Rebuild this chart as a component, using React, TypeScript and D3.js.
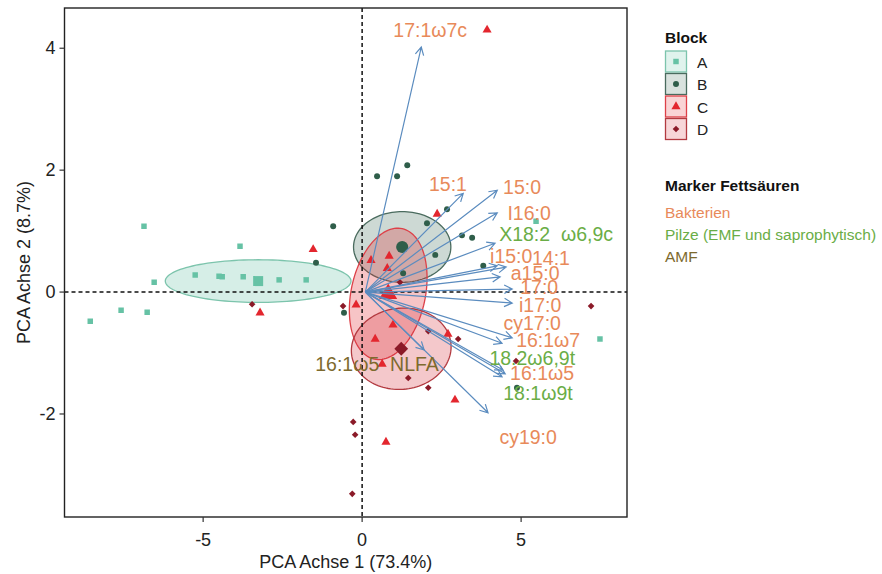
import React from "react";
import * as d3 from "d3";

const W = 882;
const H = 574;
const FONT = "'Liberation Sans', Arial, Helvetica, sans-serif";

// PCA scores per block (PC1, PC2)
const blockNames = ["A", "B", "C", "D"];
const scoresA: [number, number][] = [
  [-6.86, 1.08], [-3.84, 0.75], [-6.54, 0.16], [-5.25, 0.28], [-4.5, 0.26],
  [-4.4, 0.25], [-3.74, 0.25], [-2.61, 0.2], [-1.76, 0.2], [-7.58, -0.3],
  [-6.76, -0.33], [-8.55, -0.48], [7.48, -0.77], [5.47, 1.16],
];
const scoresB: [number, number][] = [
  [0.47, 1.9], [1.1, 1.9], [1.42, 2.08], [-0.91, 1.08], [-1.45, 0.48],
  [-0.57, -0.34], [2.04, 1.13], [2.67, 1.36], [3.14, 0.93], [3.46, 0.89],
  [2.3, 0.61], [3.81, 0.43], [1.29, 0.31], [4.87, -1.57],
];
const scoresC: [number, number][] = [
  [3.93, 4.3], [-1.54, 0.7], [-3.21, -0.34], [0.85, 0.59], [0.28, 0.52],
  [0.79, 0.39], [2.36, 1.28], [-0.19, -0.21], [0.97, -0.54], [0.41, -0.77],
  [0.63, -1.18], [2.7, -0.69], [2.92, -1.77], [0.75, -2.46],
];
const scoresD: [number, number][] = [
  [7.2, -0.23], [-3.46, -0.2], [-0.6, -0.23], [3.02, -0.77], [2.08, -0.64],
  [1.45, -1.41], [2.08, -1.57], [4.84, -1.13], [-0.28, -2.13], [-0.22, -2.34],
  [-0.31, -3.31], [1.19, 0.16],
];
const blockScores = [scoresA, scoresB, scoresC, scoresD];

// Block centroids and confidence-ellipse half-axes (data units)
const blockMeans: [number, number][] = [[-3.27, 0.18], [1.26, 0.74], [0.82, -0.03], [1.23, -0.93]];
const ellipseMajor: [number, number][] = [[2.92, 0], [1.53, 0], [0.44, 1.07], [1.56, 0.1]];
const ellipseMinor: [number, number][] = [[0, 0.35], [0, 0.58], [1.14, -0.13], [0.16, -0.66]];

// Fatty acid loadings
const acidNames = [
  "17:1ω7c", "15:1", "15:0", "I16:0", "X18:2  ω6,9c", "i15:0", "14:1", "a15:0", "17:0",
  "i17:0", "cy17:0", "16:1ω7", "18.2ω6,9t", "16:1ω5", "18:1ω9t", "cy19:0", "16:1ω5  NLFA",
];
const loadX = [1.86, 3.18, 4.25, 4.25, 4.18, 4.25, 4.53, 4.34, 4.72, 4.72, 4.4, 4.72, 4.43, 4.4, 4.5, 3.96, 1.95];
const loadY = [4.02, 1.62, 1.67, 1.3, 0.8, 0.43, 0.41, 0.25, 0.05, -0.18, -0.84, -0.75, -1.28, -1.39, -1.34, -1.98, -0.95];
const acidMarker = [
  "Bakterien", "Bakterien", "Bakterien", "Bakterien", "Pilze", "Bakterien", "Bakterien", "Bakterien", "Bakterien",
  "Bakterien", "Bakterien", "Bakterien", "Pilze", "Bakterien", "Pilze", "Bakterien", "AMF",
];
// Label anchors after overlap nudging (data units)
const labelX = [2.14, 2.7, 5.03, 5.25, 6.1, 4.69, 5.94, 5.44, 5.57, 5.6, 5.35, 5.85, 5.35, 5.66, 5.53, 5.22, 0.47];
const labelY = [4.3, 1.77, 1.72, 1.3, 0.95, 0.59, 0.56, 0.31, 0.08, -0.21, -0.51, -0.79, -1.08, -1.33, -1.66, -2.38, -1.18];
const loadingOrigin: [number, number] = [0.1, 0];

const markerGroups = ["Bakterien", "Pilze", "AMF"];
const markerLabels = ["Bakterien", "Pilze (EMF und saprophytisch)", "AMF"];

const xTicks = [-5, 0, 5];
const yTicks = [-2, 0, 2, 4];

const blockColor: Record<string, string> = { A: "#66c2a5", B: "#2f5e4a", C: "#e3262e", D: "#8b1a28" };
const blockFill: Record<string, string> = { A: "#66c2a5", B: "#3f6e5a", C: "#e3262e", D: "#d8333d" };
const blockStroke: Record<string, string> = { A: "#7cc4ac", B: "#4a6b5e", C: "#dd4048", D: "#b23a40" };
const markerColor: Record<string, string> = { Bakterien: "#e88a5a", Pilze: "#6aad46", AMF: "#7d6a2e" };
const arrowColor = "#5b8cbf";

const panel = { left: 64.5, right: 627, top: 8, bottom: 517 };

const x = d3.scaleLinear().domain([-9.36, 8.33]).range([panel.left, panel.right]);
const y = d3.scaleLinear().domain([-3.69, 4.66]).range([panel.bottom, panel.top]);

function symbolPath(block: string, size: number) {
  const type =
    block === "A" ? d3.symbolSquare :
    block === "B" ? d3.symbolCircle :
    block === "C" ? d3.symbolTriangle : d3.symbolSquare;
  return d3.symbol().type(type).size(size)() as string;
}

function Glyph({ block, cx, cy, big }: { block: string; cx: number; cy: number; big?: boolean }) {
  const sizes: Record<string, [number, number]> = { A: [30, 100], B: [28, 115], C: [36, 140], D: [22, 95] };
  const s = sizes[block][big ? 1 : 0];
  const rot = block === "D" ? " rotate(45)" : "";
  return (
    <path
      d={symbolPath(block, s)}
      transform={`translate(${cx},${cy})${rot}`}
      fill={blockColor[block]}
    />
  );
}

function ellipsePath(i: number) {
  const [mx, my] = blockMeans[i];
  const [ux, uy] = ellipseMajor[i];
  const [vx, vy] = ellipseMinor[i];
  const ts = d3.range(0, 2 * Math.PI, Math.PI / 60);
  const pts: [number, number][] = ts.map((t) => [
    x(mx + ux * Math.cos(t) + vx * Math.sin(t)),
    y(my + uy * Math.cos(t) + vy * Math.sin(t)),
  ]);
  return d3.line().curve(d3.curveLinearClosed)(pts) as string;
}

function arrowPath(i: number) {
  const x0 = x(loadingOrigin[0]);
  const y0 = y(loadingOrigin[1]);
  const x1 = x(loadX[i]);
  const y1 = y(loadY[i]);
  const a = Math.atan2(y1 - y0, x1 - x0);
  const len = 9;
  const spread = (28 * Math.PI) / 180;
  const hx1 = x1 - len * Math.cos(a - spread);
  const hy1 = y1 - len * Math.sin(a - spread);
  const hx2 = x1 - len * Math.cos(a + spread);
  const hy2 = y1 - len * Math.sin(a + spread);
  return `M${x0},${y0}L${x1},${y1}M${hx1},${hy1}L${x1},${y1}L${hx2},${hy2}`;
}

export default function App() {
  return (
    <svg
      width={W}
      height={H}
      style={{ position: "absolute", left: 0, top: 0, display: "block", background: "#fff" }}
      fontFamily={FONT}
    >
      <defs>
        <clipPath id="panelClip">
          <rect x={panel.left} y={panel.top} width={panel.right - panel.left} height={panel.bottom - panel.top} />
        </clipPath>
      </defs>

      <g clipPath="url(#panelClip)">
        {/* confidence ellipses */}
        {blockNames.map((b, i) => (
          <path
            key={"ell" + b}
            d={ellipsePath(i)}
            fill={blockFill[b]}
            fillOpacity={b === "B" ? 0.26 : 0.27}
            stroke={blockStroke[b]}
            strokeWidth={1.3}
          />
        ))}

        {/* reference lines */}
        <line x1={x(0)} x2={x(0)} y1={panel.top} y2={panel.bottom} stroke="#111" strokeWidth={1.5} strokeDasharray="4 3" />
        <line x1={panel.left} x2={panel.right} y1={y(0)} y2={y(0)} stroke="#111" strokeWidth={1.5} strokeDasharray="4 3" />

        {/* individual scores */}
        {blockNames.map((b, i) =>
          blockScores[i].map((p, j) => <Glyph key={b + j} block={b} cx={x(p[0])} cy={y(p[1])} />)
        )}
        {/* block centroids */}
        {blockNames.map((b, i) => (
          <Glyph key={"m" + b} block={b} cx={x(blockMeans[i][0])} cy={y(blockMeans[i][1])} big />
        ))}

        {/* loading arrows */}
        {acidNames.map((n, i) => (
          <path key={"arr" + i} d={arrowPath(i)} fill="none" stroke={arrowColor} strokeWidth={1.2} strokeLinejoin="miter" />
        ))}

        {/* loading labels */}
        {acidNames.map((n, i) => (
          <text
            key={"lab" + i}
            x={x(labelX[i])}
            y={y(labelY[i])}
            textAnchor="middle"
            dominantBaseline="central"
            fontSize={19.5}
            fill={markerColor[acidMarker[i]]}
            style={{ whiteSpace: "pre" }}
          >
            {n}
          </text>
        ))}
      </g>

      {/* panel border */}
      <rect
        x={panel.left}
        y={panel.top}
        width={panel.right - panel.left}
        height={panel.bottom - panel.top}
        fill="none"
        stroke="#222"
        strokeWidth={1.4}
      />

      {/* x axis */}
      {xTicks.map((t) => (
        <g key={"xt" + t}>
          <line x1={x(t)} x2={x(t)} y1={panel.bottom} y2={panel.bottom + 5} stroke="#333" strokeWidth={1.2} />
          <text x={x(t)} y={540} textAnchor="middle" dominantBaseline="central" fontSize={18} fill="#222">
            {t}
          </text>
        </g>
      ))}
      <text x={(panel.left + panel.right) / 2} y={562} textAnchor="middle" dominantBaseline="central" fontSize={18} fill="#222">
        PCA Achse 1 (73.4%)
      </text>

      {/* y axis */}
      {yTicks.map((t) => (
        <g key={"yt" + t}>
          <line x1={panel.left - 5} x2={panel.left} y1={y(t)} y2={y(t)} stroke="#333" strokeWidth={1.2} />
          <text x={panel.left - 9} y={y(t)} textAnchor="end" dominantBaseline="central" fontSize={18} fill="#222">
            {t}
          </text>
        </g>
      ))}
      <text
        transform={`translate(24,${(panel.top + panel.bottom) / 2}) rotate(-90)`}
        textAnchor="middle"
        dominantBaseline="central"
        fontSize={18}
        fill="#222"
      >
        PCA Achse 2 (8.7%)
      </text>

      {/* legend: blocks */}
      <text x={665} y={37} dominantBaseline="central" fontSize={15.5} fontWeight="bold" fill="#111">
        Block
      </text>
      {blockNames.map((b, i) => {
        const y0 = 51 + i * 22.5;
        return (
          <g key={"leg" + b}>
            <rect x={665.5} y={y0} width={21} height={21} fill={blockFill[b]} fillOpacity={0.2} stroke={blockStroke[b]} strokeWidth={1.3} />
            <Glyph block={b} cx={676} cy={y0 + 10.5} />
            <text x={697} y={y0 + 11} dominantBaseline="central" fontSize={15.5} fill="#222">
              {b}
            </text>
          </g>
        );
      })}

      {/* legend: marker fatty acids */}
      <text x={665} y={185} dominantBaseline="central" fontSize={15.5} fontWeight="bold" fill="#111">
        Marker Fettsäuren
      </text>
      {markerGroups.map((g, i) => (
        <text key={"mk" + g} x={665} y={212 + i * 22} dominantBaseline="central" fontSize={15.5} fill={markerColor[g]}>
          {markerLabels[i]}
        </text>
      ))}
    </svg>
  );
}
